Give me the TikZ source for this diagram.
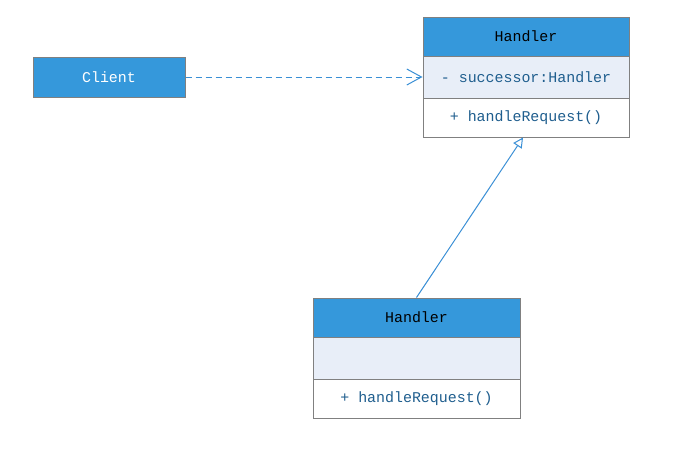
\documentclass[tikz,border=0pt]{standalone}
\usepackage{fontspec}
\setmonofont{Liberation Mono}
\usetikzlibrary{arrows.meta,calc}
\definecolor{hdr}{HTML}{3598DB}
\definecolor{attr}{HTML}{E8EEF8}
\definecolor{bord}{HTML}{808080}
\definecolor{mem}{HTML}{1F5E8E}
\definecolor{lnk}{HTML}{3A8FD5}
\tikzset{
  box/.style={draw=bord, line width=0.75pt, inner sep=0pt, font=\ttfamily\fontsize{11.2}{13}\selectfont, anchor=center},
  header/.style={box, fill=hdr, text=black},
  clientbox/.style={box, fill=hdr, text=white},
  attrbox/.style={box, fill=attr, text=mem},
  methbox/.style={box, fill=white, text=mem},
  dep/.style={draw=lnk, line width=0.75pt, dash pattern=on 4.5pt off 3pt, -{Straight Barb[length=11pt,width=12pt,line width=0.75pt]}},
  inh/.style={draw=lnk, line width=0.75pt, -{Triangle[open,length=7.5pt,width=7.5pt,line width=0.75pt]}}
}
\begin{document}
\begin{tikzpicture}[x=0.75pt,y=-0.75pt]
\useasboundingbox (0,0) rectangle (684,457);
\node[clientbox, minimum width=152*0.75pt, minimum height=40*0.75pt] (client) at (109,77) {Client};
% top Handler
\node[header, minimum width=206*0.75pt, minimum height=39*0.75pt] (h1) at (526,36.5) {Handler};
\node[attrbox, minimum width=206*0.75pt, minimum height=42*0.75pt] (a1) at (526,77) {- successor:Handler};
\node[methbox, minimum width=206*0.75pt, minimum height=39*0.75pt] (m1) at (526,117.5) {+ handleRequest()};
% bottom Handler
\node[header, minimum width=207*0.75pt, minimum height=39*0.75pt] (h2) at (416.5,317.5) {Handler};
\node[attrbox, minimum width=207*0.75pt, minimum height=42*0.75pt] (a2) at (416.5,358) {};
\node[methbox, minimum width=207*0.75pt, minimum height=39*0.75pt] (m2) at (416.5,398.5) {+ handleRequest()};
% connectors
\draw[dep] (client.east) -- (a1.west);
\coordinate (tip) at ($(m1.south)+(-3,0)$);
\draw[inh] (h2.north) -- (tip);
\end{tikzpicture}
\end{document}
